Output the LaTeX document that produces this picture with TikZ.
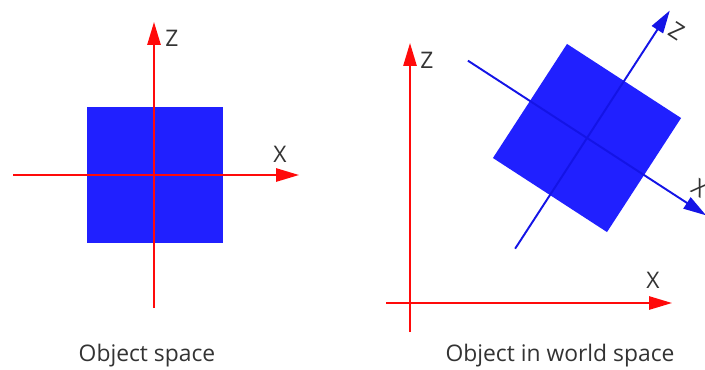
\documentclass[tikz,border=0pt]{standalone}
\usepackage{fontspec}
\setmainfont{Open Sans}
\usetikzlibrary{arrows.meta}
\definecolor{AxRed}{HTML}{FF0A0A}
\definecolor{BoxBlue}{HTML}{2020FF}
\definecolor{AxBlue}{HTML}{1414E6}
\definecolor{Ink}{HTML}{333333}

\begin{document}
\begin{tikzpicture}[x=0.02cm, y=-0.02cm,
  axis/.style={-{Triangle[length=13pt,width=7.5pt]}, line width=1.1pt, draw=AxRed},
  local/.style={axis, draw=AxBlue, fill=AxBlue},
  lbl/.style={font=\fontsize{13}{15}\selectfont, text=Ink, inner sep=0pt},
  captext/.style={lbl}
]
\path[use as bounding box, clip] (0,0) rectangle (705,369);

% object space
\fill[BoxBlue] (87,107) rectangle (223,243);
\coordinate (ox0) at (13,175);
\coordinate (ox1) at (299,175);
\coordinate (oz0) at (154,308);
\coordinate (oz1) at (154,22);
\draw[axis] (ox0) -- (ox1);
\draw[axis] (oz0) -- (oz1);
\node[lbl] (oxl) at (280,154) {X};
\node[lbl] (ozl) at (172,38) {Z};
\node[captext] (ocap) at (147,356) {Object space};

% object in world space
\coordinate (wx0) at (386,303);
\coordinate (wx1) at (672,303);
\coordinate (wz0) at (410,332);
\coordinate (wz1) at (410,43);
\draw[axis] (wx0) -- (wx1);
\draw[axis] (wz0) -- (wz1);
\node[lbl] (wxl) at (653,280) {X};
\node[lbl] (wzl) at (427,60) {Z};
\node[captext] (wcap) at (560,356) {Object in world space};

\begin{scope}[shift={(587,138)}, rotate=-33]
  \fill[BoxBlue] (-68,-68) rectangle (68,68);
  \coordinate (lx0) at (-142,0);
  \coordinate (lx1) at (142,0);
  \coordinate (lz0) at (0,132);
  \coordinate (lz1) at (0,-152);
  \draw[local] (lx0) -- (lx1);
  \draw[local] (lz0) -- (lz1);
  \node[lbl, rotate=-33] (lxl) at (122,-19) {X};
  \node[lbl, rotate=-33] (lzl) at (17,-138) {Z};
\end{scope}
\end{tikzpicture}
\end{document}
